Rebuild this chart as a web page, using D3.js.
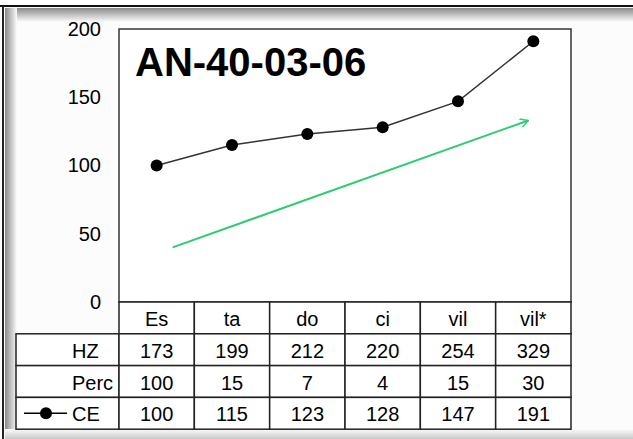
<!DOCTYPE html>
<html>
<head>
<meta charset="utf-8">
<script src="https://cdn.jsdelivr.net/npm/d3@7"></script>
<style>
  body { margin: 0; background: #fff; }
  text { font-family: "Liberation Sans", Arial, sans-serif; fill: #000; }
</style>
</head>
<body>
<div id="chart"></div>
<script>
const categories = ["Es", "ta", "do", "ci", "vil", "vil*"];
const hz = [173, 199, 212, 220, 254, 329];
const perc = [100, 15, 7, 4, 15, 30];
const ce = [100, 115, 123, 128, 147, 191];
const yTicks = [0, 50, 100, 150, 200];
const title = "AN-40-03-06";
const rowLabels = ["HZ", "Perc", "CE"];

const W = 633, H = 439;
const plot = { left: 119, right: 571, top: 29, bottom: 302 };
const rowH = 31.8;
const fontSize = "20px";

const svg = d3.select("#chart").append("svg")
  .attr("width", W).attr("height", H);

// window frame with inner shadow
const defs = svg.append("defs");
function grad(id, x2, y2, c0, c1) {
  const g = defs.append("linearGradient").attr("id", id)
    .attr("x1", 0).attr("y1", 0).attr("x2", x2).attr("y2", y2);
  g.append("stop").attr("offset", 0).attr("stop-color", c0);
  g.append("stop").attr("offset", 1).attr("stop-color", c1);
}
grad("gTop", 0, 1, "#8a8a8a", "#fcfcfc");
grad("gLeft", 1, 0, "#8a8a8a", "#fcfcfc");
grad("gBot", 0, 1, "#fcfcfc", "#c8c8c8");

svg.append("rect").attr("x", 0).attr("y", 0).attr("width", W).attr("height", H).attr("fill", "#fcfcfc");
svg.append("rect").attr("x", 5).attr("y", 8).attr("width", W - 5).attr("height", 14).attr("fill", "url(#gTop)");
svg.append("rect").attr("x", 5).attr("y", 8).attr("width", 12).attr("height", H - 8).attr("fill", "url(#gLeft)");
svg.append("rect").attr("x", 5).attr("y", 429).attr("width", W - 5).attr("height", 10).attr("fill", "url(#gBot)");
svg.append("rect").attr("x", 0).attr("y", 0).attr("width", W).attr("height", 5).attr("fill", "#fff");
svg.append("line").attr("x1", 0).attr("x2", W).attr("y1", 6).attr("y2", 6)
  .attr("stroke", "#111").attr("stroke-width", 2);
svg.append("line").attr("x1", 3).attr("x2", 3).attr("y1", 6).attr("y2", H)
  .attr("stroke", "#222").attr("stroke-width", 2);

// plot area
svg.append("rect")
  .attr("x", plot.left).attr("y", plot.top)
  .attr("width", plot.right - plot.left).attr("height", plot.bottom - plot.top)
  .attr("fill", "#fff");

const x = d3.scaleBand().domain(categories).range([plot.left, plot.right]);
const y = d3.scaleLinear().domain([0, 200]).range([plot.bottom, plot.top]);

// y tick labels
svg.append("g")
  .attr("transform", `translate(${plot.left},0)`)
  .call(d3.axisLeft(y).tickValues(yTicks).tickSize(0).tickPadding(18))
  .call(g => g.select(".domain").remove())
  .selectAll("text")
  .style("font-family", "'Liberation Sans', Arial, sans-serif")
  .style("font-size", fontSize)
  .attr("fill", "#000");

// title
svg.append("text")
  .attr("x", 135).attr("y", 76)
  .style("font-size", "40px").style("font-weight", "bold")
  .text(title);

// trend arrow
const trend = { from: ["Es", 40, 16], to: ["vil*", 133, -5] };
defs.append("marker").attr("id", "arrowHead")
  .attr("viewBox", "0 0 10 10").attr("refX", 9).attr("refY", 5)
  .attr("markerWidth", 9).attr("markerHeight", 9).attr("markerUnits", "userSpaceOnUse")
  .attr("orient", "auto")
  .append("path").attr("d", "M0,0 L9,5 L0,10")
  .attr("fill", "none").attr("stroke", "#2ecc71").attr("stroke-width", 1.6);
svg.append("line")
  .attr("x1", x(trend.from[0]) + x.bandwidth() / 2 + trend.from[2])
  .attr("y1", y(trend.from[1]))
  .attr("x2", x(trend.to[0]) + x.bandwidth() / 2 + trend.to[2])
  .attr("y2", y(trend.to[1]))
  .attr("stroke", "#2ecc71").attr("stroke-width", 2)
  .attr("marker-end", "url(#arrowHead)");

// CE line
const line = d3.line()
  .x((d, i) => x(categories[i]) + x.bandwidth() / 2)
  .y(d => y(d));
svg.append("path").datum(ce)
  .attr("d", line).attr("fill", "none")
  .attr("stroke", "#333").attr("stroke-width", 1.5);
svg.selectAll(".pt").data(ce).enter().append("circle")
  .attr("class", "pt")
  .attr("cx", (d, i) => x(categories[i]) + x.bandwidth() / 2)
  .attr("cy", d => y(d))
  .attr("r", 6).attr("fill", "#000");

// plot border
svg.append("rect")
  .attr("x", plot.left).attr("y", plot.top)
  .attr("width", plot.right - plot.left).attr("height", plot.bottom - plot.top)
  .attr("fill", "none").attr("stroke", "#333").attr("stroke-width", 1.5);

// data table
const table = svg.append("g");
const tableLeft = 16;
const rows = [hz, perc, ce];
const rowTop = i => plot.bottom + rowH * (i + 1);

function cell(x0, y0, w, label, anchor, tx) {
  table.append("rect")
    .attr("x", x0).attr("y", y0)
    .attr("width", w).attr("height", rowH)
    .attr("fill", "#fff").attr("stroke", "#222").attr("stroke-width", 1.5);
  table.append("text")
    .attr("x", tx).attr("y", y0 + rowH / 2 + 1)
    .attr("text-anchor", anchor).attr("dominant-baseline", "central")
    .style("font-size", fontSize).text(label);
}

// header row
categories.forEach(c => cell(x(c), plot.bottom, x.bandwidth(), c, "middle", x(c) + x.bandwidth() / 2));

rows.forEach((vals, r) => {
  const top = rowTop(r);
  cell(tableLeft, top, plot.left - tableLeft, rowLabels[r], "start", 72);
  vals.forEach((v, i) => {
    const c = categories[i];
    cell(x(c), top, x.bandwidth(), v, "middle", x(c) + x.bandwidth() / 2);
  });
});

// legend key for CE row
const keyY = rowTop(2) + rowH / 2;
table.append("line").attr("x1", 24).attr("x2", 67).attr("y1", keyY).attr("y2", keyY)
  .attr("stroke", "#000").attr("stroke-width", 1.5);
table.append("circle").attr("cx", 46).attr("cy", keyY).attr("r", 6).attr("fill", "#000");
</script>
</body>
</html>
